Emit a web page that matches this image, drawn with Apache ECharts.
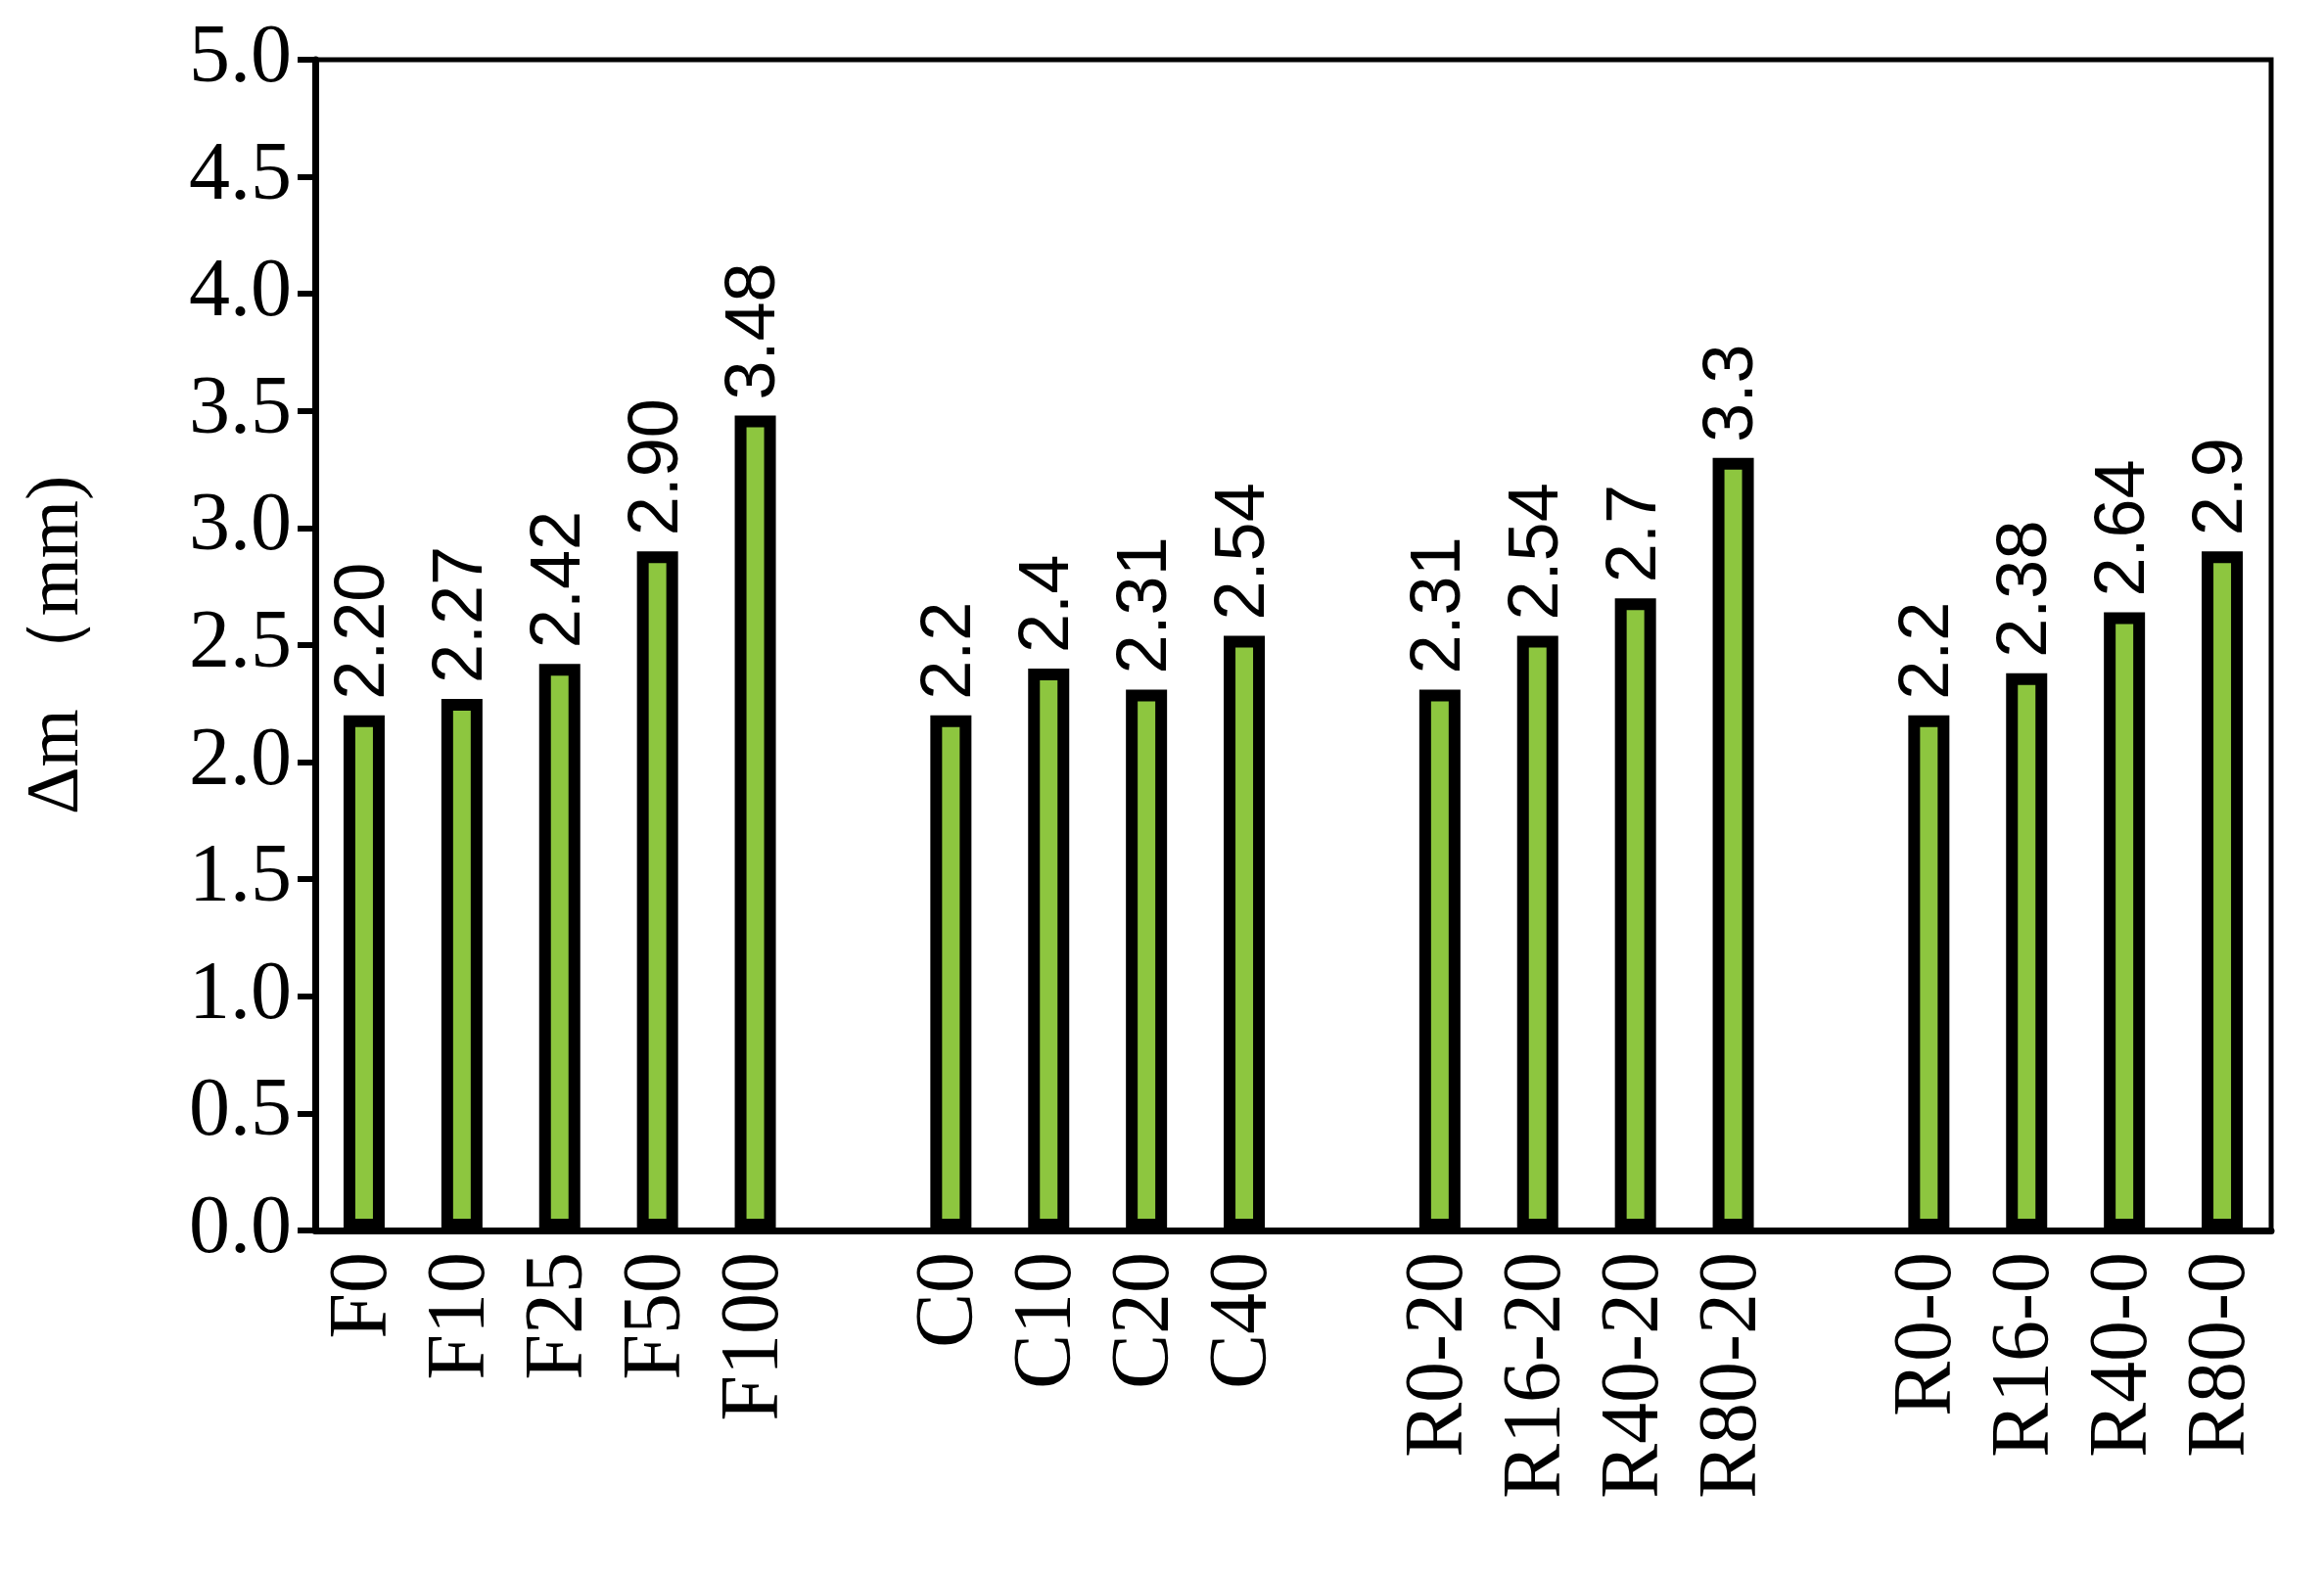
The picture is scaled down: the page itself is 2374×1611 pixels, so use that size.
<!DOCTYPE html><html><head><meta charset="utf-8"><script src="https://cdn.jsdelivr.net/npm/echarts@6/dist/echarts.min.js"></script>
<style>html,body{margin:0;background:#fff}#c{width:2374px;height:1611px}</style></head><body><div id="c"></div><script>
const categories=['F0','F10','F25','F50','F100','','C0','C10','C20','C40','','R0-20','R16-20','R40-20','R80-20','','R0-0','R16-0','R40-0','R80-0'];
const values=[2.20,2.27,2.42,2.90,3.48,null,2.2,2.4,2.31,2.54,null,2.31,2.54,2.7,3.3,null,2.2,2.38,2.64,2.9];
const labels=['2.20','2.27','2.42','2.90','3.48','','2.2','2.4','2.31','2.54','','2.31','2.54','2.7','3.3','','2.2','2.38','2.64','2.9'];
const yTicks=[0,0.5,1,1.5,2,2.5,3,3.5,4,4.5,5];
const font='Liberation Serif';
const ch=echarts.init(document.getElementById('c'));
ch.setOption({
 grid:{left:322,right:54,top:61,bottom:354,show:true,borderColor:'#000',borderWidth:5,backgroundColor:'transparent'},
 xAxis:{type:'category',data:categories,axisTick:{show:false},
  axisLine:{lineStyle:{color:'#000',width:7}},
  axisLabel:{rotate:90,color:'#000',fontFamily:font,fontSize:84,margin:22,interval:0}},
 yAxis:{type:'value',min:0,max:5,interval:0.5,
  name:'Δm （mm)',nameLocation:'middle',nameGap:225,nameTextStyle:{color:'#000',fontFamily:font,fontSize:76},
  axisLine:{show:true,lineStyle:{color:'#000',width:7}},
  axisTick:{show:true,inside:false,length:18,lineStyle:{color:'#000',width:6}},
  splitLine:{show:false},
  axisLabel:{color:'#000',fontFamily:font,fontSize:84,margin:24,formatter:v=>v.toFixed(1)}},
 series:[{type:'bar',data:values,barWidth:42,
  itemStyle:{color:'#8DC63F',borderColor:'#000',borderWidth:12},
  label:{show:true,position:'top',rotate:90,align:'left',verticalAlign:'middle',distance:16,color:'#000',fontFamily:'Liberation Sans',fontSize:72,
   formatter:p=>labels[p.dataIndex]}}]
});
</script></body></html>
